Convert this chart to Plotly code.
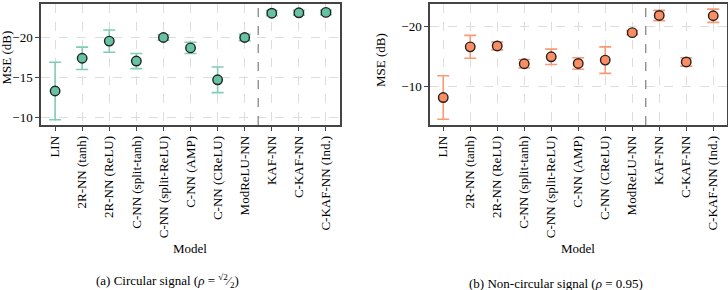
import plotly.graph_objects as go

models = ["LIN", "2R-NN (tanh)", "2R-NN (ReLU)", "C-NN (split-tanh)", "C-NN (split-ReLU)",
          "C-NN (AMP)", "C-NN (CReLU)", "ModReLU-NN", "KAF-NN", "C-KAF-NN", "C-KAF-NN (Ind.)"]

circ_mean = [-13.3, -17.4, -19.55, -17.05, -20.0, -18.7, -14.7, -20.0, -23.05, -23.1, -23.15]
circ_err = [3.6, 1.4, 1.4, 0.95, 0.35, 0.7, 1.6, 0.4, 0.33, 0.3, 0.3]

noncirc_mean = [-8.2, -16.6, -16.75, -13.8, -14.95, -13.85, -14.4, -18.95, -21.8, -14.1, -21.75]
noncirc_err = [3.6, 1.9, 0.65, 0.7, 1.27, 0.95, 2.2, 0.33, 0.85, 0.7, 1.1]

W, H = 728, 290
FONT = "Liberation Serif, Times New Roman, serif"
GREEN = "#66c2a5"
ORANGE = "#fc8d62"
GREEN_ERR = "#7fcdb2"
ORANGE_ERR = "#f99a76"

fig = go.Figure()
xs = list(range(len(models)))

for mean, err, col, ecol, xa, ya in [(circ_mean, circ_err, GREEN, GREEN_ERR, "x", "y"),
                                     (noncirc_mean, noncirc_err, ORANGE, ORANGE_ERR, "x2", "y2")]:
    fig.add_trace(go.Scatter(
        x=xs, y=mean, mode="markers", xaxis=xa, yaxis=ya,
        error_y=dict(type="data", array=err, visible=True, color=ecol, thickness=1.6, width=6),
        marker=dict(size=9.5, color=col, line=dict(color="#222222", width=1.4)),
        showlegend=False))

def px_x(p):
    return p / W

def px_y(p):
    return 1 - p / H

axis_common = dict(showline=True, linecolor="#444444", linewidth=1.5, mirror=True,
                   ticks="outside", ticklen=4, tickcolor="#444444", tickwidth=1,
                   showgrid=True, gridcolor="#dddddd", griddash="dash", gridwidth=1,
                   zeroline=False, tickfont=dict(family=FONT, size=13, color="black"))

xaxis_common = dict(axis_common, tickmode="array", tickvals=xs, ticktext=models, tickangle=-90)

fig.update_layout(
    width=W, height=H, margin=dict(l=0, r=0, t=0, b=0),
    paper_bgcolor="white", plot_bgcolor="white",
    font=dict(family=FONT, size=13, color="black"),
    xaxis=dict(xaxis_common, domain=[px_x(41), px_x(339.5)], range=[-0.52, 10.5]),
    yaxis=dict(axis_common, domain=[px_y(125), px_y(4)], range=[-9.04, -24.2],
               tickvals=[-20, -15, -10], anchor="x"),
    xaxis2=dict(xaxis_common, domain=[px_x(430), px_x(727)], range=[-0.49, 10.51], anchor="y2"),
    yaxis2=dict(axis_common, domain=[px_y(125), px_y(4)], range=[-3.65, -23.7],
                tickvals=[-20, -10], anchor="x2"),
)

sep = models.index("KAF-NN") - 0.5
for xr, yr in [("x", "y domain"), ("x2", "y2 domain")]:
    fig.add_shape(type="line", xref=xr, yref=yr, x0=sep, x1=sep, y0=0, y1=1,
                  line=dict(color="#888888", width=1.3, dash="dash"))

ann = [
    dict(text="MSE (dB)", x=px_x(6.5), y=px_y(58), textangle=-90),
    dict(text="MSE (dB)", x=px_x(381), y=px_y(60), textangle=-90),
    dict(text="Model", x=px_x(190), y=px_y(248)),
    dict(text="Model", x=px_x(578), y=px_y(248)),
    dict(text="(a) Circular signal (<i>ρ</i> = <sup>√2</sup>⁄<sub>2</sub>)", x=px_x(167), y=px_y(281)),
    dict(text="(b) Non-circular signal (<i>ρ</i> = 0.95)", x=px_x(556), y=px_y(283)),
]
for a in ann:
    fig.add_annotation(xref="paper", yref="paper", showarrow=False, xanchor="center", yanchor="middle",
                       font=dict(family=FONT, size=13, color="black"), **a)

fig.write_html("out.html")
